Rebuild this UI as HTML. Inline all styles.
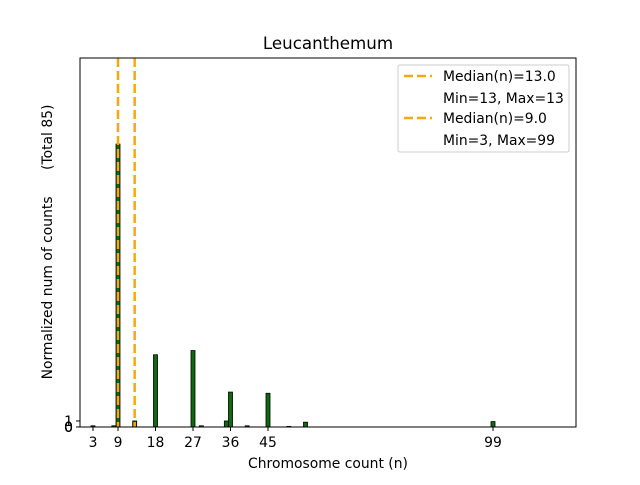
<!DOCTYPE html>
<html><head><meta charset="utf-8"><style>
body{margin:0;background:#fff;}
svg text{font-family:"DejaVu Sans","Liberation Sans",sans-serif;}
</style></head><body>
<svg id="chart" width="640" height="480" viewBox="0 0 640 480" xmlns="http://www.w3.org/2000/svg">
<rect width="640" height="480" fill="#fff"/>
<text x="328" y="49" font-size="16.7" text-anchor="middle">Leucanthemum</text>
<g id="bars"></g>
<g id="medians"></g>
<rect x="80" y="58" width="496" height="369" fill="none" stroke="#000" stroke-width="1"/>
<g id="xticks"></g>
<g id="yticks"></g>
<text x="328" y="468" font-size="13.9" text-anchor="middle">Chromosome count (n)</text>
<text transform="translate(52,242) rotate(-90)" font-size="13.9" text-anchor="middle" xml:space="preserve">Normalized num of counts      (Total 85)</text>
<g>
<rect x="398" y="65" width="171" height="87" rx="2" fill="#fff" stroke="#ccc"/>
<line x1="404" y1="76" x2="432" y2="76" stroke="#f5a814" stroke-width="2.5" stroke-dasharray="9,4"/>
<text x="443" y="81" font-size="13.9">Median(n)=13.0</text>
<text x="443" y="103" font-size="13.9">Min=13, Max=13</text>
<line x1="404" y1="118" x2="432" y2="118" stroke="#f5a814" stroke-width="2.5" stroke-dasharray="9,4"/>
<text x="443" y="123" font-size="13.9">Median(n)=9.0</text>
<text x="443" y="145" font-size="13.9">Min=3, Max=99</text>
</g>
</svg>
<script>
const categories=[3,8,9,13,18,27,29,35,36,40,45,50,54,99];
const counts=[0.2,0.2,47,1,12,12.7,0.2,1,5.8,0.2,5.6,0.1,0.8,0.9];
const xTicks=[3,9,18,27,36,45,99];
const yTicks=[0,0,0,0,1];
const medians=[13,9];
const NS="http://www.w3.org/2000/svg";
const X=v=>118+(v-9)*4.1667;
const Y=v=>427-v*6.02;
const bars=document.getElementById('bars');
categories.forEach((c,i)=>{
 const r=document.createElementNS(NS,'rect');
 const h=427-Y(counts[i]);
 r.setAttribute('x',X(c)-2);r.setAttribute('y',Y(counts[i]));
 r.setAttribute('width',4);r.setAttribute('height',Math.max(h,0.5));
 r.setAttribute('fill','#0f6a0f');r.setAttribute('stroke','#000');r.setAttribute('stroke-width','0.8');
 
 
 bars.appendChild(r);
});
const med=document.getElementById('medians');
medians.forEach(m=>{
 const l=document.createElementNS(NS,'line');
 l.setAttribute('x1',X(m));l.setAttribute('x2',X(m));l.setAttribute('y1',58);l.setAttribute('y2',427);
 l.setAttribute('stroke','#f5a814');l.setAttribute('stroke-width','2.5');l.setAttribute('stroke-dasharray','9,4');
 
 
 med.appendChild(l);
});
const xt=document.getElementById('xticks');
xTicks.forEach(t=>{
 const l=document.createElementNS(NS,'line');
 l.setAttribute('x1',X(t));l.setAttribute('x2',X(t));l.setAttribute('y1',427);l.setAttribute('y2',431);l.setAttribute('stroke','#000');
 
 
 xt.appendChild(l);
 const tx=document.createElementNS(NS,'text');
 tx.setAttribute('x',X(t));tx.setAttribute('y',447);tx.setAttribute('font-size','13.9');tx.setAttribute('text-anchor','middle');
 tx.textContent=t;
 
 
 xt.appendChild(tx);
});
const yt=document.getElementById('yticks');
yTicks.forEach(t=>{
 const l=document.createElementNS(NS,'line');
 l.setAttribute('x1',76);l.setAttribute('x2',80);l.setAttribute('y1',Y(t));l.setAttribute('y2',Y(t));l.setAttribute('stroke','#000');
 
 
 yt.appendChild(l);
 const tx=document.createElementNS(NS,'text');
 tx.setAttribute('x',73);tx.setAttribute('y',Y(t)+5);tx.setAttribute('font-size','13.9');tx.setAttribute('text-anchor','end');
 tx.textContent=t;
 
 
 yt.appendChild(tx);
});
</script>
</body></html>
